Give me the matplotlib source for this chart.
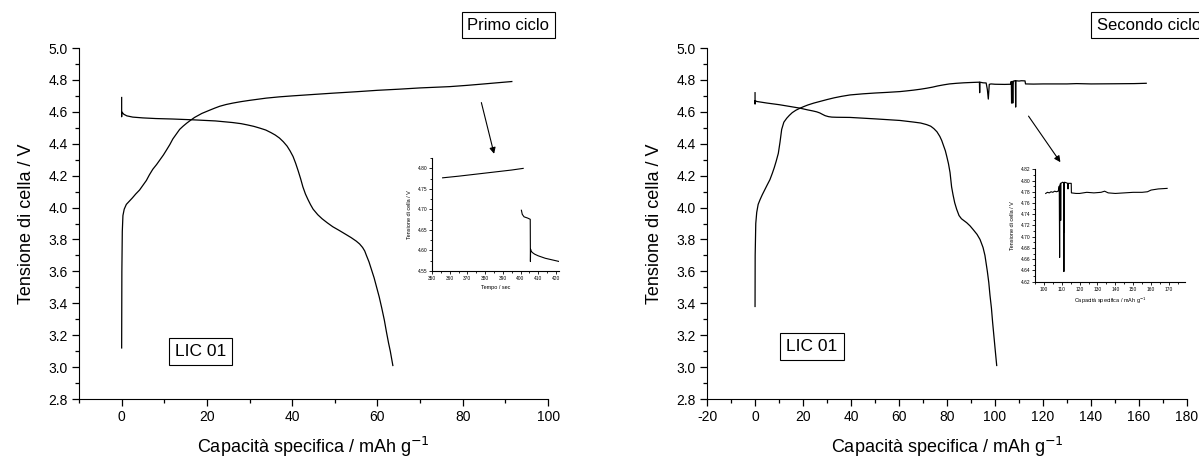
import matplotlib
matplotlib.use("Agg")
import matplotlib.pyplot as plt
from matplotlib.ticker import MultipleLocator, FormatStrFormatter

plt.rcParams['font.family'] = ['Liberation Sans', 'DejaVu Sans']
plt.rcParams['axes.unicode_minus'] = False

# ---------------- data: first cycle ----------------
c1_charge_x = [0, 0.05, 0.15, 0.3, 0.6, 1.1, 1.8, 2.5, 3.3, 4.2, 5.0, 5.8, 6.5, 7.3, 8.2, 9.0, 9.8, 10.5, 11.3,
               12.0, 12.8, 13.6, 14.4, 15.3, 16.2, 17.1, 18.8, 20.6, 21.8, 23.0, 24.5, 26.1, 28.0, 30.0, 33.9,
               37.0, 40.0, 45.0, 49.5, 55.0, 60.0, 65.0, 70.0, 76.9, 81.0, 85.0, 88.0, 91.5]
c1_charge_y = [3.12, 3.60, 3.85, 3.95, 3.99, 4.02, 4.04, 4.06, 4.085, 4.11, 4.14, 4.17, 4.205, 4.24, 4.27, 4.30, 4.33,
               4.36, 4.395, 4.43, 4.46, 4.49, 4.51, 4.53, 4.548, 4.565, 4.59, 4.61, 4.623, 4.635, 4.646, 4.655,
               4.664, 4.672, 4.686, 4.694, 4.700, 4.709, 4.717, 4.726, 4.735, 4.742, 4.750, 4.758, 4.766, 4.775,
               4.782, 4.790]
c1_dis_x = [0, 0, 0, 0.5, 1.2, 2.6, 5.0, 8.0, 12.0, 16.7, 22.0, 26.0, 28.0, 29.5, 31.0, 32.4, 33.8, 35.0, 36.0,
            37.0, 37.9, 38.8, 39.5, 40.2, 40.8, 41.4, 42.0, 42.5, 43.1, 43.7, 44.3, 44.9, 46.0, 47.0, 48.2,
            49.5, 51.0, 52.5, 53.8, 55.0, 55.8, 56.5, 57.0, 57.4, 58.0, 58.6, 59.2, 59.7, 60.4, 61.0, 61.6,
            62.1, 62.6, 63.0, 63.6]
c1_dis_y = [4.69, 4.57, 4.60, 4.585, 4.575, 4.567, 4.562, 4.558, 4.555, 4.550, 4.543, 4.533, 4.526, 4.518, 4.509,
            4.498, 4.486, 4.470, 4.455, 4.436, 4.413, 4.385, 4.355, 4.320, 4.278, 4.230, 4.178, 4.130, 4.085,
            4.050, 4.018, 3.990, 3.955, 3.930, 3.905, 3.880, 3.857, 3.833, 3.812, 3.790, 3.772, 3.750, 3.728,
            3.700, 3.660, 3.610, 3.560, 3.510, 3.440, 3.370, 3.295, 3.220, 3.150, 3.100, 3.010]

# inset of first cycle (time axis)
ins1_a_x = [356, 365, 375, 385, 395, 401.5]
ins1_a_y = [4.777, 4.781, 4.786, 4.791, 4.796, 4.800]
ins1_b_x = [400.5, 401.0, 402.0, 404.0, 405.5, 405.6, 405.7, 406.0, 407.0, 408.0, 410.0, 412.0, 414.0, 418.0, 422.0]
ins1_b_y = [4.698, 4.688, 4.682, 4.679, 4.676, 4.573, 4.603, 4.598, 4.594, 4.591, 4.587, 4.584, 4.581, 4.577, 4.573]

# ---------------- data: second cycle ----------------
c2_charge_x = [0, 0.05, 0.3, 0.7, 1.3, 2.1, 3.0, 4.0, 5.0, 6.2, 7.2, 8.0, 8.8, 9.7, 10.4, 11.1, 12.0, 13.2, 14.3,
               15.5, 17.0, 18.75, 20.3, 22.0, 24.5, 27.0, 30.0, 33.0, 36.0, 39.6, 45.0, 50.0, 55.0, 60.4, 63.0,
               66.0, 69.0, 71.5, 74.0, 76.0, 78.5, 81.0, 84.0, 87.0, 90.0, 93.5, 93.6, 93.7, 95.0, 96.3, 96.8,
               97.2, 97.6, 98.3, 100.0, 104.0, 106.5, 106.7, 106.8, 106.9, 107.3, 107.4, 107.5, 108.3, 108.5,
               108.6, 108.7, 110.0, 111.0, 112.5, 112.7, 116.0, 120.0, 130.0, 134.0, 140.0, 150.0, 158.0, 163.0]
c2_charge_y = [3.38, 3.70, 3.90, 3.97, 4.02, 4.05, 4.08, 4.11, 4.14, 4.175, 4.215, 4.25, 4.29, 4.34, 4.41, 4.49,
               4.535, 4.56, 4.578, 4.595, 4.61, 4.623, 4.633, 4.643, 4.655, 4.665, 4.677, 4.688, 4.697, 4.706,
               4.713, 4.718, 4.722, 4.727, 4.731, 4.736, 4.742, 4.748, 4.755, 4.762, 4.769, 4.775, 4.779, 4.782,
               4.784, 4.786, 4.720, 4.786, 4.782, 4.781, 4.740, 4.680, 4.772, 4.775, 4.773,
               4.772, 4.773, 4.790, 4.790, 4.655, 4.790, 4.655, 4.792, 4.795, 4.795, 4.630, 4.795, 4.793, 4.795,
               4.794, 4.775, 4.774, 4.775, 4.775, 4.777, 4.775, 4.776, 4.777, 4.779]
c2_dis_x = [0, 0, 0, 0.7, 5.0, 10.0, 14.0, 18.75, 22.0, 24.0, 25.7, 27.0, 28.0, 29.2, 30.6, 32.0, 34.0, 39.6, 50.0,
            60.4, 66.0, 69.0, 71.5, 73.2, 74.5, 75.8, 77.0, 77.8, 78.5, 79.3, 79.9, 80.6, 81.25, 81.9, 82.5,
            83.2, 84.0, 85.0, 86.0, 88.2, 89.6, 91.0, 92.5, 93.75, 95.0, 95.8, 96.3, 96.8, 97.4, 97.9, 98.5,
            99.0, 99.5, 100.0, 100.7]
c2_dis_y = [4.72, 4.65, 4.67, 4.665, 4.655, 4.645, 4.635, 4.623, 4.612, 4.606, 4.600, 4.593, 4.585, 4.576, 4.570,
            4.567, 4.566, 4.565, 4.556, 4.546, 4.536, 4.530, 4.520, 4.510, 4.495, 4.475, 4.446, 4.420, 4.390,
            4.356, 4.320, 4.275, 4.220, 4.130, 4.080, 4.030, 3.990, 3.950, 3.930, 3.905, 3.885, 3.860, 3.832,
            3.800, 3.750, 3.700, 3.650, 3.600, 3.530, 3.450, 3.370, 3.280, 3.200, 3.120, 3.010]

# inset of second cycle
ins2_x = [101, 102, 103, 104, 105, 106, 107, 108, 108.6, 108.8, 109.0, 109.3, 109.4, 109.5, 110.5, 111.1, 111.2,
          111.3, 111.4, 111.5, 111.6, 112.5, 113.3, 113.5, 113.7, 114.5, 115.3, 115.4, 118, 120, 124, 128, 132,
          134, 136, 140, 145, 150, 155, 158, 160, 164, 169]
ins2_y = [4.777, 4.779, 4.778, 4.780, 4.779, 4.781, 4.780, 4.781, 4.790, 4.663, 4.792, 4.795, 4.729, 4.795, 4.797, 4.796, 4.638,
          4.795, 4.708, 4.795, 4.797, 4.796, 4.795, 4.785, 4.795, 4.795, 4.795, 4.778, 4.777, 4.777, 4.779, 4.778, 4.779,
          4.781, 4.778, 4.777, 4.778, 4.779, 4.779, 4.780, 4.783, 4.785, 4.786]

LW = 0.9
FS_TICK = 10
FS_LAB = 13

fig = plt.figure(figsize=(11.99, 4.57), dpi=100)


def style_main(ax, xlim, xmaj):
    ax.set_xlim(*xlim)
    ax.set_ylim(2.8, 5.0)
    for s in ('top', 'right'):
        ax.spines[s].set_visible(False)
    ax.xaxis.set_major_locator(MultipleLocator(xmaj))
    ax.xaxis.set_minor_locator(MultipleLocator(xmaj / 2))
    ax.yaxis.set_major_locator(MultipleLocator(0.2))
    ax.yaxis.set_minor_locator(MultipleLocator(0.1))
    ax.yaxis.set_major_formatter(FormatStrFormatter('%.1f'))
    ax.tick_params(which='major', direction='out', length=5, width=0.9, labelsize=FS_TICK, pad=3)
    ax.tick_params(which='minor', direction='out', length=3, width=0.9)
    ax.set_xlabel('Capacità specifica / mAh g$^{-1}$', fontsize=FS_LAB, labelpad=8)
    ax.set_ylabel('Tensione di cella / V', fontsize=FS_LAB, labelpad=10)


def style_inset(ax, xlim, ylim, xmaj, ymaj, yfmt, xlabel):
    ax.set_xlim(*xlim)
    ax.set_ylim(*ylim)
    for s in ('top', 'right'):
        ax.spines[s].set_visible(False)
    ax.xaxis.set_major_locator(MultipleLocator(xmaj))
    ax.xaxis.set_minor_locator(MultipleLocator(xmaj / 2))
    ax.yaxis.set_major_locator(MultipleLocator(ymaj))
    ax.yaxis.set_minor_locator(MultipleLocator(ymaj / 2))
    ax.yaxis.set_major_formatter(FormatStrFormatter(yfmt))
    ax.tick_params(which='major', direction='out', length=2, width=0.6, labelsize=3.5, pad=1.5)
    ax.tick_params(which='minor', direction='out', length=1.2, width=0.6)
    for s in ('left', 'bottom'):
        ax.spines[s].set_linewidth(0.8)
    ax.set_xlabel(xlabel, fontsize=4, labelpad=3)
    ax.set_ylabel('Tensione di cella / V', fontsize=4, labelpad=4)


box = dict(boxstyle='square,pad=0.35', facecolor='white', edgecolor='black', linewidth=0.8)

# ---------------- left panel ----------------
ax1 = fig.add_axes([0.0659, 0.1269, 0.3912, 0.768])
ax1.plot(c1_charge_x, c1_charge_y, color='black', lw=LW)
ax1.plot(c1_dis_x, c1_dis_y, color='black', lw=LW)
style_main(ax1, (-10, 100), 20)
ax1.text(18.5, 3.10, 'LIC 01', fontsize=12.5, ha='center', va='center', bbox=box)
ax1.text(90.7, 5.144, 'Primo ciclo', fontsize=12, ha='center', va='center', bbox=box, clip_on=False)
ax1.annotate('', xy=(87.5, 4.32), xytext=(84.2, 4.675),
             arrowprops=dict(arrowstyle='-|>', color='black', lw=0.8, mutation_scale=9))

ins1 = fig.add_axes([0.3603, 0.407, 0.1063, 0.247])
ins1.plot(ins1_a_x, ins1_a_y, color='black', lw=0.8)
ins1.plot(ins1_b_x, ins1_b_y, color='black', lw=0.8)
style_inset(ins1, (350, 422), (4.55, 4.825), 10, 0.05, '%.2f', 'Tempo / sec')

# ---------------- right panel ----------------
ax2 = fig.add_axes([0.5897, 0.1269, 0.4003, 0.768])
ax2.plot(c2_charge_x, c2_charge_y, color='black', lw=LW)
ax2.plot(c2_dis_x, c2_dis_y, color='black', lw=LW)
style_main(ax2, (-20, 180), 20)
ax2.text(23.75, 3.13, 'LIC 01', fontsize=12.5, ha='center', va='center', bbox=box)
ax2.text(164.3, 5.144, 'Secondo ciclo', fontsize=12, ha='center', va='center', bbox=box, clip_on=False)
ax2.annotate('', xy=(127.9, 4.27), xytext=(113.3, 4.5875),
             arrowprops=dict(arrowstyle='-|>', color='black', lw=0.8, mutation_scale=9))

ins2 = fig.add_axes([0.8632, 0.3836, 0.1251, 0.246])
ins2.plot(ins2_x, ins2_y, color='black', lw=0.8)
style_inset(ins2, (95, 179), (4.62, 4.82), 10, 0.02, '%.2f', 'Capacità specifica / mAh g$^{-1}$')

fig.savefig('out.png', dpi=100)
